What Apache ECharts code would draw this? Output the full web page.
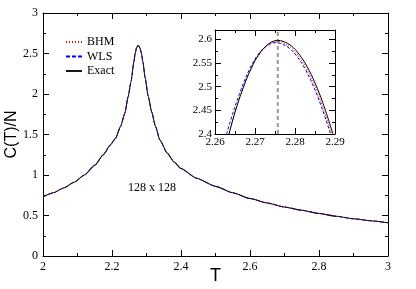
<!DOCTYPE html>
<html><head><meta charset="utf-8">
<script src="https://cdn.jsdelivr.net/npm/echarts@6/dist/echarts.min.js"></script>
<style>html,body{margin:0;padding:0;background:#fff}#c{width:416px;height:289px}</style>
</head><body><div id="c"></div>
<script>
// Main panel (128 x 128 lattice)
const mainT = [2.00,2.03,2.06,2.09,2.12,2.15,2.175,2.195,2.21,2.225,2.237,2.247,2.255,2.2635,2.267,2.271,2.2745,2.2757,2.277,2.281,2.285,2.2895,2.296,2.305,2.315,2.326,2.339,2.36,2.38,2.40,2.445,2.50,2.55,2.60,2.65,2.70,2.75,2.80,2.85,2.90,2.95,3.00];
const mainExact = [0.73,0.78,0.84,0.91,1.00,1.12,1.25,1.37,1.45,1.60,1.76,1.97,2.15,2.40,2.497,2.569,2.596,2.598,2.596,2.569,2.508,2.40,2.20,1.97,1.78,1.60,1.43,1.27,1.16,1.08,0.96,0.86,0.78,0.71,0.655,0.605,0.565,0.525,0.49,0.46,0.435,0.41];
const mainBHM = mainExact;
const mainWLS = mainExact;
// Inset (zoom on the peak)
const insetExactT = [2.2635,2.265,2.267,2.269,2.271,2.273,2.2745,2.2757,2.277,2.279,2.281,2.283,2.285,2.287,2.2895];
const insetExact  = [2.400,2.446,2.497,2.538,2.569,2.588,2.596,2.598,2.596,2.587,2.569,2.543,2.508,2.465,2.400];
const insetBHMT = [2.2635,2.265,2.267,2.269,2.271,2.273,2.2745,2.2755,2.2767,2.2787,2.2807,2.2827,2.2847,2.2867,2.2892];
const insetBHM  = [2.400,2.446,2.496,2.537,2.567,2.586,2.594,2.5955,2.594,2.585,2.567,2.541,2.506,2.463,2.400];
const insetWLST = [2.2629,2.2645,2.2665,2.2685,2.2705,2.2725,2.274,2.275,2.2765,2.2785,2.2805,2.2825,2.2845,2.2865,2.2889];
const insetWLS  = [2.400,2.445,2.494,2.535,2.565,2.584,2.591,2.593,2.591,2.582,2.564,2.538,2.503,2.460,2.400];
const peakT = [2.2757];
const peakLineY = [2.4, 2.62];
const xTicksMain = {min:2, max:3, interval:0.2};
const yTicksMain = {min:0, max:3, interval:0.5};
const xTicksInset = {min:2.26, max:2.29, interval:0.01};
const yTicksInset = {min:2.4, max:2.62, interval:0.05};

const zip = (a,b)=>a.map((v,i)=>[v,b[i]]);
const serif = 'Liberation Serif';
const sans = 'Liberation Sans';

function axis(pos, grid, t, opts){
  return Object.assign({
    type:'value', position:pos, gridIndex:grid, min:t.min, max:t.max, interval:t.interval,
    axisLine:{show:true, onZero:false, lineStyle:{color:'#000', width:1}},
    axisTick:{show:true, inside:true, length:6, lineStyle:{color:'#000'}},
    minorTick:{show:true, splitNumber:2, length:3, lineStyle:{color:'#000'}},
    splitLine:{show:false},
    axisLabel:{show:false}
  }, opts||{});
}
const lbl = (size, extra)=>Object.assign({show:true, color:'#000', fontFamily:serif, fontSize:size, margin:5}, extra||{});

const chart = echarts.init(document.getElementById('c'));
chart.setOption({
  animation:false,
  backgroundColor:'#fff',
  grid:[
    {left:43, top:13, width:345, height:243, outerBoundsMode:'none'},
    {left:215, top:30, width:120, height:104, outerBoundsMode:'none', show:true, backgroundColor:'#fff', borderWidth:0}
  ],
  xAxis:[
    axis('bottom',0,xTicksMain,{axisLabel:lbl(12,{margin:5}), name:'T', nameLocation:'middle', nameGap:11, nameMoveOverlap:false, nameTextStyle:{fontFamily:sans, fontSize:18, color:'#000'}}),
    axis('top',0,xTicksMain),
    axis('bottom',1,xTicksInset,{axisLabel:lbl(11,{margin:3})}),
    axis('top',1,xTicksInset)
  ],
  yAxis:[
    axis('left',0,yTicksMain,{axisLabel:lbl(12,{margin:5}), name:'C(T)/N', nameLocation:'middle', nameGap:23, nameMoveOverlap:false, nameTextStyle:{fontFamily:sans, fontSize:16, color:'#000'}}),
    axis('right',0,yTicksMain),
    axis('left',1,yTicksInset,{axisLabel:lbl(11,{margin:3, showMaxLabel:false})}),
    axis('right',1,yTicksInset)
  ],
  legend:{
    data:['BHM','WLS','Exact'], orient:'vertical', left:60, top:31,
    itemWidth:16, itemHeight:10, itemGap:2.5, selectedMode:false,
    itemStyle:{opacity:0},
    textStyle:{fontFamily:serif, fontSize:12, color:'#000'}
  },
  graphic:[
    {type:'text', left:128, top:182, style:{text:'128 x 128', font:'12px "Liberation Serif"', fill:'#000'}}
  ],
  series:[
    {name:'WLS', type:'line', xAxisIndex:0, yAxisIndex:0, data:zip(mainT,mainWLS), symbol:'none', smooth:0.2, smoothMonotone:'x', lineStyle:{color:'#0000ff', width:1, type:[4,2]}},
    {name:'BHM', type:'line', xAxisIndex:0, yAxisIndex:0, data:zip(mainT,mainBHM), symbol:'none', smooth:0.2, smoothMonotone:'x', lineStyle:{color:'#ff0000', width:1, type:[1,2]}},
    {name:'Exact', type:'line', xAxisIndex:0, yAxisIndex:0, data:zip(mainT,mainExact), symbol:'none', smooth:0.2, smoothMonotone:'x', lineStyle:{color:'#1a1030', width:1.1}},
    {name:'peak', type:'line', xAxisIndex:2, yAxisIndex:2, data:zip([peakT[0],peakT[0]],peakLineY), symbol:'none', silent:true, lineStyle:{color:'#999', width:2, type:[4,3]}},
    {name:'WLS', type:'line', xAxisIndex:2, yAxisIndex:2, data:zip(insetWLST,insetWLS), symbol:'none', smooth:0.4, lineStyle:{color:'#0000ff', width:1, type:[3,2]}},
    {name:'BHM', type:'line', xAxisIndex:2, yAxisIndex:2, data:zip(insetBHMT,insetBHM), symbol:'none', smooth:0.4, lineStyle:{color:'#ff0000', width:1, type:[1,1.5]}},
    {name:'Exact', type:'line', xAxisIndex:2, yAxisIndex:2, data:zip(insetExactT,insetExact), symbol:'none', smooth:0.4, lineStyle:{color:'#000', width:1}}
  ]
});
</script></body></html>
